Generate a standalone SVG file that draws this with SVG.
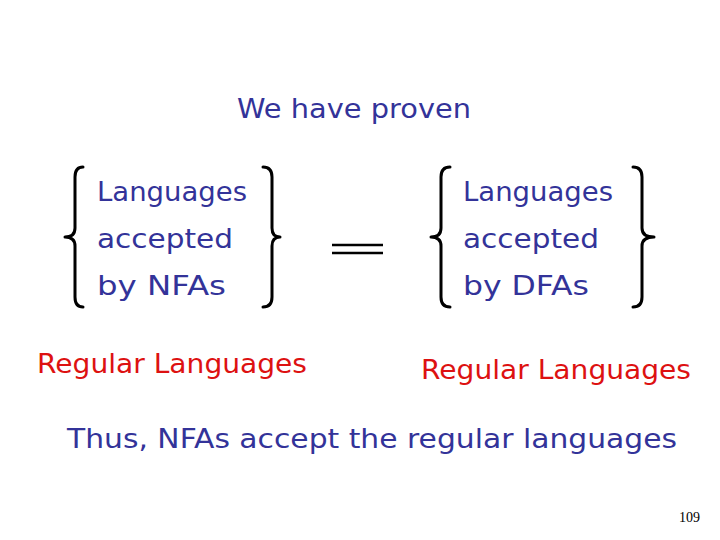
<svg xmlns="http://www.w3.org/2000/svg" width="720" height="540" viewBox="0 0 720 540">
<style>
.t{font-family:"Comic Sans MS","DejaVu Sans",sans-serif;font-size:26px;fill:#333399}
.r{font-family:"Comic Sans MS","DejaVu Sans",sans-serif;font-size:26px;fill:#dd1111}
.br{fill:none;stroke:#000;stroke-width:3;stroke-linecap:round;stroke-linejoin:round}
.pn{font-family:"Liberation Serif","Times New Roman",serif;font-size:14px;fill:#000}
</style>
<rect width="720" height="540" fill="#fff"/>
<g id="title"><text class="t" x="237" y="118" textLength="234" lengthAdjust="spacingAndGlyphs">We have proven</text></g>
<g id="nfa">
<path class="br" d="M83,167 Q75,167 75,177 L75,228 Q75,237 65,237 Q75,237 75,246 L75,297 Q75,307 83,307"/>
<path class="br" d="M263,167 Q272,167 272,177 L272,228 Q272,237 280,237 Q272,237 272,246 L272,297 Q272,307 263,307"/>
<text class="t" x="97" y="201" textLength="150" lengthAdjust="spacingAndGlyphs">Languages</text>
<text class="t" x="97" y="248" textLength="136" lengthAdjust="spacingAndGlyphs">accepted</text>
<text class="t" x="97" y="295" textLength="129" lengthAdjust="spacingAndGlyphs">by NFAs</text>
</g>
<g id="equals">
<line x1="332" y1="245" x2="383" y2="245" stroke="#000" stroke-width="2.5"/>
<line x1="332" y1="253" x2="383" y2="253" stroke="#000" stroke-width="2.5"/>
</g>
<g id="dfa">
<path class="br" d="M450,167 Q441,167 441,177 L441,228 Q441,237 431,237 Q441,237 441,246 L441,297 Q441,307 450,307"/>
<path class="br" d="M633,167 Q642,167 642,177 L642,228 Q642,237 654,237 Q642,237 642,246 L642,297 Q642,307 633,307"/>
<text class="t" x="463" y="201" textLength="150" lengthAdjust="spacingAndGlyphs">Languages</text>
<text class="t" x="463" y="248" textLength="136" lengthAdjust="spacingAndGlyphs">accepted</text>
<text class="t" x="463" y="295" textLength="126" lengthAdjust="spacingAndGlyphs">by DFAs</text>
</g>
<g id="reg1"><text class="r" x="37" y="373" textLength="270" lengthAdjust="spacingAndGlyphs">Regular Languages</text></g>
<g id="reg2"><text class="r" x="421" y="379" textLength="270" lengthAdjust="spacingAndGlyphs">Regular Languages</text></g>
<g id="conclusion"><text class="t" x="67" y="448" textLength="610" lengthAdjust="spacingAndGlyphs">Thus, NFAs accept the regular languages</text></g>
<g id="page"><text class="pn" x="700" y="522" text-anchor="end">109</text></g>
</svg>
